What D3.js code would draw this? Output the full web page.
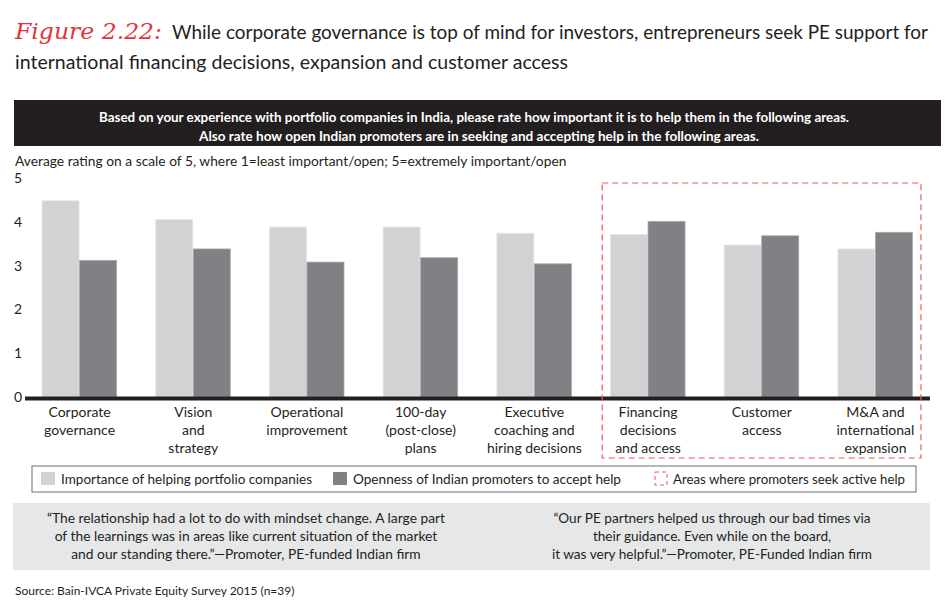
<!DOCTYPE html>
<html><head><meta charset="utf-8">
<script src="https://cdn.jsdelivr.net/npm/d3@7"></script>
<style>
html,body{margin:0;padding:0;background:#fff;}
svg{display:block;font-family:Lato, "Open Sans", sans-serif;}
</style></head>
<body>
<svg id="chart" width="950" height="602"></svg>
<script>
// ---- data ----
const categories = [
  ["Corporate","governance"],
  ["Vision","and","strategy"],
  ["Operational","improvement"],
  ["100-day","(post-close)","plans"],
  ["Executive","coaching and","hiring decisions"],
  ["Financing","decisions","and access"],
  ["Customer","access"],
  ["M&A and","international","expansion"]
];
const importance = [4.48, 4.05, 3.88, 3.88, 3.74, 3.71, 3.47, 3.38];
const openness   = [3.12, 3.38, 3.08, 3.18, 3.04, 4.01, 3.68, 3.76];
const seriesNames = ["Importance of helping portfolio companies", "Openness of Indian promoters to accept help"];
const highlightLabel = "Areas where promoters seek active help";
const highlighted = [5, 6, 7];
const yTicks = [0, 1, 2, 3, 4, 5];
const quoteLeft = ["\u201CThe relationship had a lot to do with mindset change. A large part",
  "of the learnings was in areas like current situation of the market",
  "and our standing there.\u201D\u2014Promoter, PE-funded Indian firm"];
const quoteRight = ["\u201COur PE partners helped us through our bad times via",
  "their guidance. Even while on the board,",
  "it was very helpful.\u201D\u2014Promoter, PE-Funded Indian firm"];

// ---- drawing ----
const svg = d3.select("#chart");
const colLight = "#d1d2d4", colDark = "#808184", red = "#ef5b5b", ink = "#231f20";

// title
svg.append("text").attr("x", 15).attr("y", 39).attr("fill", "#e4343b").attr("font-family", "DejaVu Serif")
  .attr("font-style", "italic").attr("font-size", 23).attr("textLength", 147).attr("lengthAdjust", "spacingAndGlyphs")
  .text("Figure 2.22:");
svg.append("text").attr("x", 172).attr("y", 39).attr("font-size", 18.8).attr("fill", ink)
  .attr("textLength", 756).attr("lengthAdjust", "spacingAndGlyphs")
  .text("While corporate governance is top of mind for investors, entrepreneurs seek PE support for");
svg.append("text").attr("x", 15).attr("y", 69).attr("font-size", 19.5).attr("fill", ink)
  .attr("textLength", 553).attr("lengthAdjust", "spacingAndGlyphs")
  .text("international financing decisions, expansion and customer access");

// banner
svg.append("rect").attr("x", 14).attr("y", 100).attr("width", 927).attr("height", 46).attr("fill", ink);
svg.append("text").attr("x", 99).attr("y", 122).attr("fill", "#fff").attr("font-weight", "bold").attr("font-size", 13.5)
  .attr("textLength", 750).attr("lengthAdjust", "spacingAndGlyphs")
  .text("Based on your experience with portfolio companies in India, please rate how important it is to help them in the following areas.");
svg.append("text").attr("x", 199).attr("y", 141).attr("fill", "#fff").attr("font-weight", "bold").attr("font-size", 13.5)
  .attr("textLength", 560).attr("lengthAdjust", "spacingAndGlyphs")
  .text("Also rate how open Indian promoters are in seeking and accepting help in the following areas.");
svg.append("text").attr("x", 15).attr("y", 166).attr("font-size", 13.8).attr("fill", ink)
  .text("Average rating on a scale of 5, where 1=least important/open; 5=extremely important/open");

// scales
const x = d3.scaleBand().domain(d3.range(categories.length)).range([25, 930]).paddingInner(0.34).paddingOuter(0.15);
const x1 = d3.scaleBand().domain([0, 1]).range([0, x.bandwidth()]).padding(0);
const y = d3.scaleLinear().domain([0, 5]).range([397, 178]);

// y tick labels
svg.append("g").selectAll("text").data(yTicks).join("text")
  .attr("x", 14).attr("y", d => y(d)).attr("dy", "0.35em").attr("font-size", 14).attr("fill", ink).text(d => d);

// bars
const g = svg.append("g");
const groups = g.selectAll("g").data(categories.map((c, i) => i)).join("g")
  .attr("transform", i => `translate(${x(i)},0)`);
groups.append("rect").attr("x", x1(0)).attr("width", x1.bandwidth() - 0.5)
  .attr("y", i => y(importance[i])).attr("height", i => y(0) - y(importance[i]))
  .attr("fill", colLight).attr("stroke", "#e6e7e8").attr("stroke-width", 0.8);
groups.append("rect").attr("x", x1(1)).attr("width", x1.bandwidth() - 0.5)
  .attr("y", i => y(openness[i])).attr("height", i => y(0) - y(openness[i]))
  .attr("fill", colDark).attr("stroke", "#a7a9ac").attr("stroke-width", 0.8);

// baseline
svg.append("line").attr("x1", 25).attr("x2", 930).attr("y1", y(0) + 1.5).attr("y2", y(0) + 1.5)
  .attr("stroke", ink).attr("stroke-width", 4);

// category labels
const lab = svg.append("g").selectAll("text").data(categories).join("text")
  .attr("text-anchor", "middle").attr("font-size", 14).attr("fill", ink)
  .attr("transform", (d, i) => `translate(${x(i) + x.bandwidth() / 2},0)`);
lab.selectAll("tspan").data(d => d).join("tspan").attr("x", 0).attr("y", (d, j) => 417 + j * 18).text(d => d);

// highlight box
const hx0 = x(highlighted[0]) - (x.step() - x.bandwidth()) / 2 + 11;
const hx1 = x(highlighted[highlighted.length - 1]) + x.bandwidth() + 8;
svg.append("rect").attr("x", hx0).attr("y", 183).attr("width", hx1 - hx0).attr("height", 275)
  .attr("fill", "none").attr("stroke", red).attr("stroke-width", 1.2).attr("stroke-dasharray", "6,4");

// legend
svg.append("rect").attr("x", 32).attr("y", 466).attr("width", 884).attr("height", 26)
  .attr("fill", "#fff").attr("stroke", "#6d6e71").attr("stroke-width", 1);
const leg = [
  {x: 41, fill: colLight, label: seriesNames[0], w: 251},
  {x: 333, fill: colDark, label: seriesNames[1], w: 268},
  {x: 655, fill: "none", label: highlightLabel, dash: true, w: 232}
];
const lg = svg.append("g").selectAll("g").data(leg).join("g").attr("transform", d => `translate(${d.x},472)`);
lg.append("rect").attr("width", d => d.dash ? 12 : 14).attr("height", 13)
  .attr("fill", d => d.fill).attr("stroke", d => d.dash ? red : "none").attr("stroke-dasharray", "4,3");
lg.append("text").attr("x", d => d.dash ? 18 : 20).attr("y", 7).attr("dy", "0.35em").attr("font-size", 14).attr("fill", ink)
  .attr("textLength", d => d.w).attr("lengthAdjust", "spacingAndGlyphs").text(d => d.label);

// quote box
svg.append("rect").attr("x", 13).attr("y", 503).attr("width", 917).attr("height", 67).attr("fill", "#e6e7e8");
svg.append("g").selectAll("text").data(quoteLeft).join("text")
  .attr("x", 246).attr("y", (d, i) => 523 + i * 18).attr("text-anchor", "middle").attr("font-size", 13.8).attr("fill", ink).text(d => d);
svg.append("g").selectAll("text").data(quoteRight).join("text")
  .attr("x", 712).attr("y", (d, i) => 523 + i * 18).attr("text-anchor", "middle").attr("font-size", 13.6).attr("fill", ink).text(d => d);

svg.append("text").attr("x", 15).attr("y", 595).attr("font-size", 12).attr("fill", ink)
  .text("Source: Bain-IVCA Private Equity Survey 2015 (n=39)");
</script>
</body></html>
